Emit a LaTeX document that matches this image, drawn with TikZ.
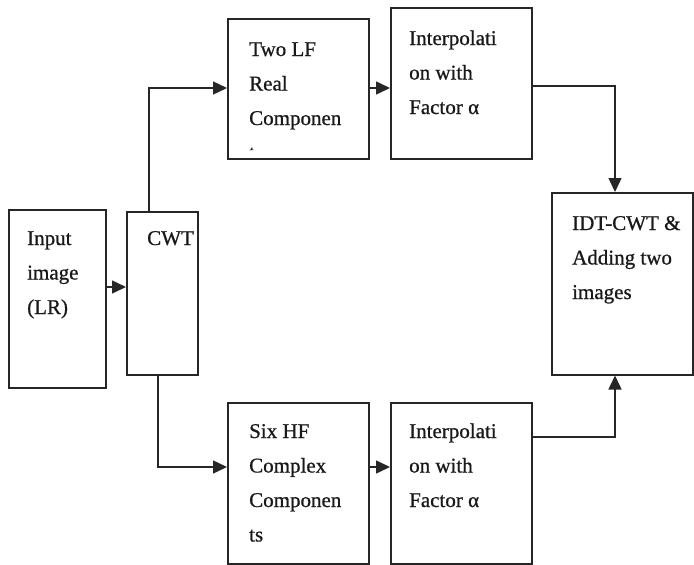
\documentclass[tikz,border=0pt]{standalone}
\usepackage{fontspec}
\setmainfont{Liberation Serif}[FakeBold=0.8]
\usetikzlibrary{arrows.meta}
\begin{document}
\begin{tikzpicture}[x=1pt,y=-1pt,
  box/.style={draw=black!85, line width=1.5pt, rectangle, inner sep=0pt, anchor=north west},
  lbl/.style={anchor=base west, inner sep=0pt, text=black!90, font=\fontsize{21}{34.5}\selectfont},
  arr/.style={draw=black!85, line width=1.5pt, -{Triangle[length=14pt,width=13pt]}}]
\useasboundingbox (0,0) rectangle (694,565);
% boxes
\node[box, minimum width=97, minimum height=178] (inp) at (8,209) {};
\node[box, minimum width=71, minimum height=163] (cwt) at (126,211) {};
\node[box, minimum width=141, minimum height=140] (lf) at (227,18) {};
\node[box, minimum width=141, minimum height=151] (it1) at (390,7) {};
\node[box, minimum width=141, minimum height=182] (idt) at (551,192) {};
\node[box, minimum width=141, minimum height=161] (hf) at (227,402) {};
\node[box, minimum width=141, minimum height=161] (it2) at (390,402) {};
% texts
\node[lbl] (tinp) at (27,245) {\begin{tabular}[t]{@{}l@{}}Input\\image\\(LR)\end{tabular}};
\node[lbl] (tcwt) at (147,245) {CWT};
\begin{scope}
\clip (228,19) rectangle (367,140) (228,140) rectangle (254.5,150);
\node[lbl] (tlf) at (249,56) {\begin{tabular}[t]{@{}l@{}}Two LF\\Real\\Componen\\ts\end{tabular}};
\end{scope}
\node[lbl] (tit1) at (409,45) {\begin{tabular}[t]{@{}l@{}}Interpolati\\on with\\Factor~α\end{tabular}};
\node[lbl] (tidt) at (572,230) {\begin{tabular}[t]{@{}l@{}}IDT-CWT \&\\Adding two\\images\end{tabular}};
\node[lbl] (thf) at (249,438) {\begin{tabular}[t]{@{}l@{}}Six HF\\Complex\\Componen\\ts\end{tabular}};
\node[lbl] (tit2) at (409,438) {\begin{tabular}[t]{@{}l@{}}Interpolati\\on with\\Factor~α\end{tabular}};
% bend coordinates
\coordinate (a0) at (0,287);
\coordinate (b1) at (149,88);
\coordinate (b2) at (158,467);
\coordinate (b3) at (615,86);
\coordinate (b4) at (615,437);
% connectors
\draw[arr] (inp.east |- a0) -- (cwt.west |- a0);
\draw[arr] (cwt.north -| b1) -- (b1) -- (lf.west |- b1);
\draw[arr] (lf.east |- b1) -- (it1.west |- b1);
\draw[arr] (cwt.south -| b2) -- (b2) -- (hf.west |- b2);
\draw[arr] (hf.east |- b2) -- (it2.west |- b2);
\draw[arr] (it1.east |- b3) -- (b3) -- (idt.north -| b3);
\draw[arr] (it2.east |- b4) -- (b4) -- (idt.south -| b4);
\end{tikzpicture}
\end{document}
